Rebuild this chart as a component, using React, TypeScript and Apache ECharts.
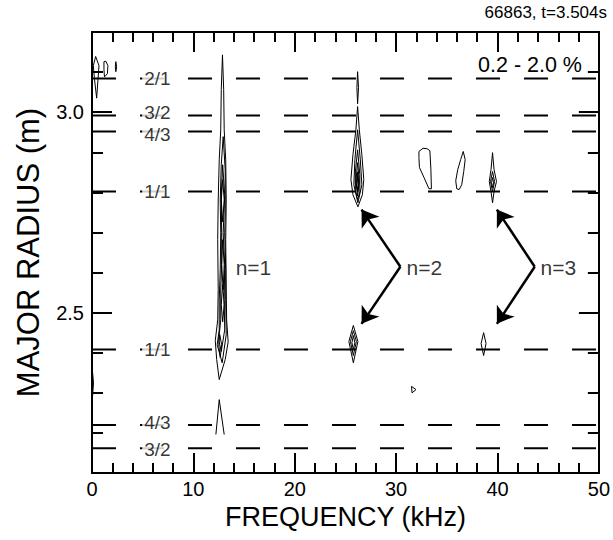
import { useEffect, useRef } from "react";
import * as echarts from "echarts";

const FONT = "'Liberation Sans', Arial, Helvetica, sans-serif";

// ---- axes ----
const freqMin = 0;
const freqMax = 50;
const freqInterval = 10;
const radiusMin = 2.1;
const radiusMax = 3.2;
const radiusMajorTicks = [2.5, 3.0];
const radiusMinorTicks = [2.1, 2.2, 2.3, 2.4, 2.5, 2.6, 2.7, 2.8, 2.9, 3.0, 3.1, 3.2];

// ---- rational surfaces (q = m/n) ----
const rationalLabels = ["2/1", "3/2", "4/3", "1/1", "1/1", "4/3", "3/2"];
const rationalRadii = [3.084, 2.992, 2.952, 2.802, 2.408, 2.22, 2.162];

// ---- contour lines [frequency kHz, radius m] ----
const n1Contours: number[][][] = [
  [[12.87, 3.143], [12.99, 3.056], [13.04, 2.956], [13.19, 2.881], [13.24, 2.781], [13.19, 2.682], [13.24, 2.557], [13.28, 2.482], [13.43, 2.427], [13.14, 2.383], [12.55, 2.333], [12.3, 2.383], [12.16, 2.43], [12.4, 2.482], [12.45, 2.557], [12.4, 2.682], [12.45, 2.781], [12.55, 2.881], [12.7, 2.956], [12.75, 3.056]],
  [[12.94, 2.939], [13.14, 2.856], [13.14, 2.744], [13.09, 2.699], [13.19, 2.607], [13.19, 2.532], [13.24, 2.445], [12.84, 2.375], [12.35, 2.42], [12.55, 2.457], [12.55, 2.532], [12.65, 2.607], [12.7, 2.699], [12.65, 2.781], [12.75, 2.869]],
  [[12.89, 2.869], [13.09, 2.794], [12.94, 2.699], [13.09, 2.62], [13.04, 2.532], [13.09, 2.457], [12.75, 2.403], [12.5, 2.432], [12.7, 2.482], [12.7, 2.557], [12.79, 2.62], [12.79, 2.699], [12.75, 2.794]],
  [[12.89, 2.832], [13.04, 2.781], [12.89, 2.726], [12.75, 2.781]],
  [[12.89, 2.682], [13.04, 2.62], [12.94, 2.557], [12.79, 2.62]],
  [[12.89, 2.57], [13.04, 2.52], [12.89, 2.477], [12.75, 2.52]],
  [[12.6, 2.445], [12.79, 2.42], [12.65, 2.388], [12.5, 2.42]],
];
const n1OpenContours: number[][][] = [
  [[12.22, 2.196], [12.55, 2.283], [13.04, 2.196]],
];
const n2Contours: number[][][] = [
  [[26.2, 3.101], [26.29, 3.061], [26.2, 3.021], [26.13, 3.061]],
  [[26.2, 3.014], [26.37, 2.956], [26.62, 2.894], [26.81, 2.832], [26.67, 2.794], [26.23, 2.764], [25.74, 2.794], [25.54, 2.832], [25.74, 2.894], [26.03, 2.956]],
  [[26.2, 2.956], [26.47, 2.881], [26.62, 2.819], [26.23, 2.774], [25.83, 2.819], [25.93, 2.881]],
  [[26.2, 2.906], [26.42, 2.844], [26.42, 2.801], [26.2, 2.782], [25.98, 2.806], [25.98, 2.851]],
  [[26.2, 2.874], [26.37, 2.827], [26.2, 2.791], [26.03, 2.827]],
  [[26.2, 2.851], [26.32, 2.822], [26.2, 2.801], [26.08, 2.822]],
  [[26.2, 2.842], [26.27, 2.817], [26.2, 2.807], [26.13, 2.817]],
  [[25.78, 2.468], [26.23, 2.428], [25.78, 2.375], [25.34, 2.428]],
  [[25.78, 2.455], [26.08, 2.428], [25.78, 2.393], [25.49, 2.428]],
  [[25.78, 2.443], [25.93, 2.425], [25.78, 2.408], [25.64, 2.425]],
];
const n3Contours: number[][][] = [
  [[39.51, 2.899], [39.66, 2.857], [39.9, 2.827], [39.66, 2.802], [39.51, 2.774], [39.36, 2.802], [39.19, 2.827], [39.36, 2.857]],
  [[39.51, 2.852], [39.71, 2.827], [39.51, 2.802], [39.31, 2.827]],
  [[39.51, 2.837], [39.61, 2.824], [39.51, 2.812], [39.41, 2.824]],
  [[38.63, 2.45], [38.87, 2.423], [38.63, 2.393], [38.38, 2.423]],
];
const otherContours: number[][][] = [
  [[32.25, 2.902], [32.65, 2.91], [33.04, 2.909], [33.33, 2.904], [33.43, 2.857], [33.48, 2.809], [33.24, 2.809], [32.75, 2.837], [32.3, 2.862], [32.25, 2.887]],
  [[36.62, 2.902], [36.81, 2.882], [36.67, 2.852], [36.47, 2.819], [36.22, 2.807], [35.98, 2.809], [35.88, 2.829], [36.08, 2.857], [36.37, 2.882]],
  [[31.52, 2.316], [31.96, 2.308], [31.57, 2.3]],
  [[0.36, 3.139], [0.69, 3.116], [0.59, 3.081], [0.46, 3.035], [0.25, 3.081], [0.13, 3.116]],
  [[1.18, 3.126], [1.37, 3.127], [1.57, 3.116], [1.52, 3.096], [1.23, 3.088], [1.18, 3.106]],
  [[2.35, 3.126], [2.43, 3.113], [2.35, 3.101], [2.3, 3.113]],
];
const otherOpenContours: number[][][] = [
  [[0.05, 2.353], [0.15, 2.325], [0.06, 2.292]],
];

// ---- arrows: [vertex, tip] ----
const arrowSegments: number[][][] = [
  [[30.42, 2.6145], [26.59, 2.757]],
  [[30.42, 2.6145], [26.59, 2.472]],
  [[43.67, 2.6145], [39.94, 2.757]],
  [[43.67, 2.6145], [39.94, 2.472]],
];
const modeLabels = ["n=1", "n=2", "n=3"];
const modeLabelPos: number[][] = [[14.12, 2.612], [30.98, 2.612], [44.2, 2.612]];
const rationalLabelFreq = 4.9;

const shotText = "66863, t=3.504s";
const rangeText = "0.2 - 2.0 %";

// small vertical nudges (px) so the close 3/2 and 4/3 labels don't collide
const rationalLabelNudge = [0, -3, 3, 0, 0, -2, 1];

function contourSeries(list: number[][][], closed: boolean) {
  return list.map((pts) => ({
    type: "line",
    data: closed ? [...pts, pts[0]] : pts,
    symbol: "none",
    silent: true,
    z: 3,
    lineStyle: { color: "#000", width: 1 },
  }));
}

export default function App() {
  const ref = useRef<HTMLDivElement>(null);
  useEffect(() => {
    if (!ref.current) return;
    const chart = echarts.init(ref.current, undefined, { renderer: "svg" });
    const axisLine = { show: true, onZero: false, lineStyle: { color: "#000", width: 2 } };
    const xBase = (pos: string, labels: boolean) => ({
      type: "value",
      min: freqMin,
      max: freqMax,
      interval: freqInterval,
      position: pos,
      axisLine,
      axisTick: { show: true, inside: true, length: 20, lineStyle: { color: "#000", width: 2 } },
      minorTick: { show: true, splitNumber: 5, length: 10, lineStyle: { color: "#000", width: 2 } },
      splitLine: { show: false },
      minorSplitLine: { show: false },
      axisLabel: { show: labels, color: "#000", fontSize: 20, fontFamily: FONT, margin: 6 },
    });
    const yBase = (pos: string, ticks: number[], len: number, labels: boolean) => ({
      type: "value",
      min: radiusMin,
      max: radiusMax,
      position: pos,
      axisLine,
      axisTick: { show: true, inside: true, length: len, customValues: ticks, lineStyle: { color: "#000", width: 2 } },
      splitLine: { show: false },
      axisLabel: labels
        ? { show: true, customValues: radiusMajorTicks, color: "#000", fontSize: 20, fontFamily: FONT, margin: 8, formatter: (v: number) => v.toFixed(1) }
        : { show: false },
    });

    const series: any[] = [];
    rationalRadii.forEach((r) => {
      series.push({
        type: "line",
        data: [[freqMin, r], [freqMax, r]],
        symbol: "none",
        silent: true,
        z: 1,
        lineStyle: { color: "#000", width: 2, type: [24, 24] },
      });
    });
    series.push({
      type: "scatter",
      symbolSize: 1,
      itemStyle: { color: "rgba(0,0,0,0)" },
      silent: true,
      z: 4,
      data: rationalRadii.map((r, i) => ({
        value: [rationalLabelFreq, r],
        name: rationalLabels[i],
        label: { offset: [0, rationalLabelNudge[i]] },
      })),
      label: {
        show: true,
        position: "right",
        distance: 0,
        formatter: "{b}",
        color: "#000",
        fontSize: 19,
        lineHeight: 15,
        fontFamily: FONT,
        backgroundColor: "#fff",
        padding: [0, 4, 0, 2],
      },
    });
    series.push(...contourSeries(n1Contours, true));
    series.push(...contourSeries(n1OpenContours, false));
    series.push(...contourSeries(n2Contours, true));
    series.push(...contourSeries(n3Contours, true));
    series.push(...contourSeries(otherContours, true));
    series.push(...contourSeries(otherOpenContours, false));
    series.push({
      type: "lines",
      coordinateSystem: "cartesian2d",
      silent: true,
      z: 5,
      symbol: ["none", "arrow"],
      symbolSize: 16,
      lineStyle: { color: "#000", width: 2.5, opacity: 1, curveness: 0 },
      data: arrowSegments.map((s) => ({ coords: s })),
    });
    series.push({
      type: "scatter",
      symbolSize: 1,
      itemStyle: { color: "rgba(0,0,0,0)" },
      silent: true,
      z: 5,
      data: modeLabelPos.map((p, i) => ({ value: p, name: modeLabels[i] })),
      label: { show: true, position: "right", distance: 0, formatter: "{b}", color: "#000", fontSize: 21, fontFamily: FONT },
    });

    chart.setOption({
      animation: false,
      backgroundColor: "#fff",
      grid: { left: 92, right: 11, top: 32, bottom: 67, containLabel: false },
      xAxis: [
        { ...xBase("bottom", true), name: "FREQUENCY (kHz)", nameLocation: "middle", nameGap: 28, nameTextStyle: { color: "#000", fontSize: 27, fontFamily: FONT } },
        xBase("top", false),
      ],
      yAxis: [
        { ...yBase("left", radiusMajorTicks, 20, true), name: "MAJOR RADIUS (m)", nameLocation: "middle", nameGap: 48, nameTextStyle: { color: "#000", fontSize: 31, fontFamily: FONT } },
        yBase("left", radiusMinorTicks, 11, false),
        yBase("right", radiusMajorTicks, 20, false),
        yBase("right", radiusMinorTicks, 11, false),
      ],
      graphic: [
        { type: "text", x: 607, y: 12, style: { text: shotText, align: "right", verticalAlign: "middle", fontSize: 17, fontFamily: FONT, fill: "#000" } },
        { type: "text", x: 582, y: 65, style: { text: rangeText, align: "right", verticalAlign: "middle", fontSize: 21.5, fontFamily: FONT, fill: "#000" } },
      ],
      series,
    });
    return () => chart.dispose();
  }, []);
  return <div ref={ref} style={{ position: "fixed", left: 0, top: 0, width: 613, height: 540, background: "#fff" }} />;
}
